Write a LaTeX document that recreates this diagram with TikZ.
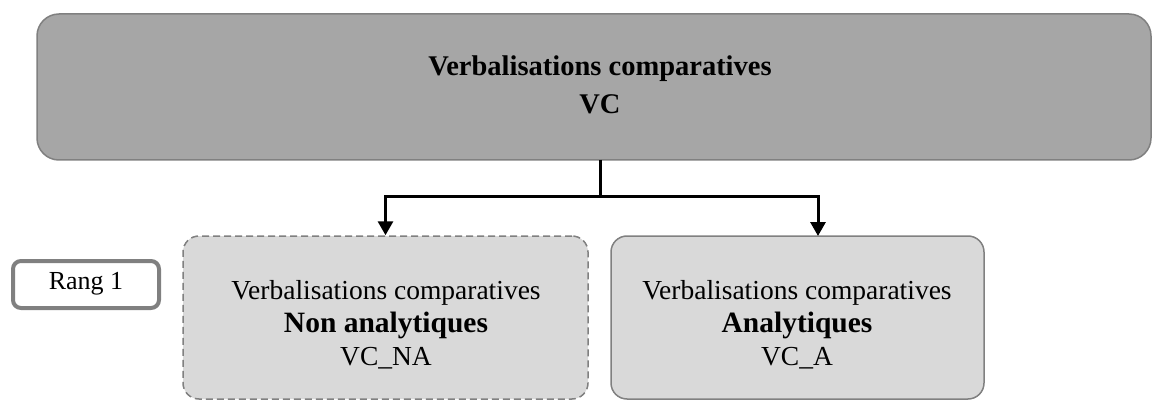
\documentclass[tikz,border=0pt]{standalone}
\usepackage{fontspec}
\setmainfont{Liberation Serif}
\usetikzlibrary{arrows.meta,calc}
\definecolor{topfill}{HTML}{A6A6A6}
\definecolor{boxfill}{HTML}{D9D9D9}
\definecolor{edge}{HTML}{808080}
\tikzset{
  topbox/.style={draw=edge, fill=topfill, line width=1.5pt, rounded corners=22pt,
    minimum width=1114pt, minimum height=146pt, inner sep=0pt},
  subbox/.style={draw=edge, fill=boxfill, line width=1.5pt, rounded corners=16pt,
    minimum height=163pt, inner sep=0pt},
  rangbox/.style={draw=edge, fill=white, line width=4pt, rounded corners=8pt,
    minimum width=146pt, minimum height=47pt, inner sep=0pt},
  lbl/.style={align=center, font=\fontsize{27.5}{33}\selectfont},
  boldline/.style={},
  conn/.style={line width=3pt, -{Triangle[width=15pt,length=14pt]}},
  stem/.style={line width=3pt},
}
\newcommand{\bigbold}[1]{{\fontsize{29.5}{33}\selectfont\bfseries #1}}
\begin{document}
\begin{tikzpicture}[x=1pt,y=-1pt]
\useasboundingbox (0,0) rectangle (1152,401);
\node[topbox] (top) at (594,87) {};
\node[align=center, font=\fontsize{28.5}{38}\selectfont\bfseries] (toptxt) at (600,85)
  {Verbalisations comparatives\\VC};
\node[subbox, dashed, dash pattern=on 7pt off 4pt, minimum width=405pt] (na) at (385.5,317.5) {};
\node[subbox, minimum width=373pt] (a) at (797.5,317.5) {};
\node[rangbox] (rang) at (86,284.5) {};
\node[lbl, font=\fontsize{26}{33}\selectfont] (rangtxt) at (86,284) {Rang 1};
\node[lbl] (natxt) at (386,325)
  {Verbalisations comparatives\\\bigbold{Non analytiques}\\VC\_NA};
\node[lbl] (atxt) at (797,325)
  {Verbalisations comparatives\\\bigbold{Analytiques}\\VC\_A};
\coordinate (stemtop) at (600,160);
\coordinate (split) at (600,197);
\coordinate (aarrow) at (818,236);
\draw[stem] (stemtop) -- (split);
\draw[conn] (split) -| (na.north);
\draw[conn] (split) -| (aarrow);
\end{tikzpicture}
\end{document}
